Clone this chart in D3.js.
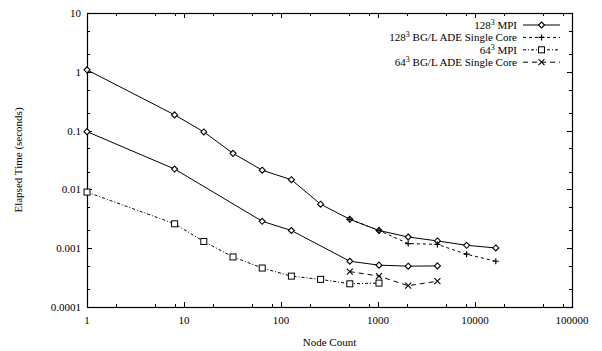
<!DOCTYPE html>
<html>
<head>
<meta charset="utf-8">
<script src="https://cdn.jsdelivr.net/npm/d3@7"></script>
<style>
	body { margin: 0; background: #fff; }
	text { font-family: "Liberation Serif", "Times New Roman", serif; fill: #000; }
</style>
</head>
<body>
<div id="chart-area"></div>
<script>

// Node counts for each run
var nodes128mpi = [1, 8, 16, 32, 64, 128, 256, 512, 1024, 2048, 4096, 8192, 16384];
var time128mpi = [1.08, 0.185, 0.095, 0.041, 0.0212, 0.0146, 0.0056, 0.0031, 0.0020, 0.00155, 0.00133, 0.00112, 0.00101];

var nodes128bgl = [512, 1024, 2048, 4096, 8192, 16384];
var time128bgl = [0.0031, 0.0020, 0.0012, 0.00116, 0.00079, 0.0006];

var nodes64mpi = [1, 8, 16, 32, 64, 128, 256, 512, 1024];
var time64mpi = [0.009, 0.0026, 0.0013, 0.00071, 0.00046, 0.000335, 0.000295, 0.000248, 0.000255];

var nodes64bgl = [512, 1024, 2048, 4096];
var time64bgl = [0.0004, 0.000335, 0.00023, 0.000275];

// second solid curve, no key entry
var nodesExtra = [1, 8, 64, 128, 512, 1024, 2048, 4096];
var timeExtra = [0.096, 0.0222, 0.00287, 0.0020, 0.0006, 0.000515, 0.000495, 0.0005];

var xTickLabels = ["1", "10", "100", "1000", "10000", "100000"];
var yTickLabels = ["0.0001", "0.001", "0.01", "0.1", "1", "10"];

var zip = function(xs, ys) {
	return xs.map(function(x, i) { return {x: x, y: ys[i]}; });
};

var series = [
	{name: "128", rest: " MPI", data: zip(nodes128mpi, time128mpi), dash: null, marker: "diamond"},
	{name: "128", rest: " BG/L ADE Single Core", data: zip(nodes128bgl, time128bgl), dash: "3,3", marker: "plus"},
	{name: "64", rest: " MPI", data: zip(nodes64mpi, time64mpi), dash: "3,2,1,2", marker: "square"},
	{name: "64", rest: " BG/L ADE Single Core", data: zip(nodes64bgl, time64bgl), dash: "5,4", marker: "cross"},
	{name: null, data: zip(nodesExtra, timeExtra), dash: null, marker: "diamond"}
];

var margin = {top: 13, right: 30, bottom: 44, left: 87};
var width = 602 - margin.left - margin.right,
	height = 351 - margin.top - margin.bottom;

var svg = d3.select("#chart-area").append("svg")
	.attr("width", 602)
	.attr("height", 351)
	.append("g")
	.attr("transform", "translate(" + margin.left + "," + margin.top + ")");

var x = d3.scaleLog()
	.domain([1, 100000])
	.range([0, width]);

var y = d3.scaleLog()
	.domain([0.0001, 10])
	.range([height, 0]);

// minor ticks: 2,5,8 on x and 2,5 on y like the original
var xMinor = [], yMinor = [];
[1, 10, 100, 1000, 10000].forEach(function(d) {
	xMinor.push(2 * d, 5 * d, 8 * d);
});
[0.0001, 0.001, 0.01, 0.1, 1].forEach(function(d) {
	yMinor.push(2 * d, 5 * d);
});
var xMajor = xTickLabels.map(Number);
var yMajor = yTickLabels.map(Number);

var ticks = svg.append("g").attr("stroke", "#000").attr("stroke-width", 1);

var addXTicks = function(vals, len) {
	vals.forEach(function(v) {
		var px = Math.round(x(v)) + 0.5;
		ticks.append("line").attr("x1", px).attr("x2", px).attr("y1", height).attr("y2", height - len);
		ticks.append("line").attr("x1", px).attr("x2", px).attr("y1", 0).attr("y2", len);
	});
};
var addYTicks = function(vals, len) {
	vals.forEach(function(v) {
		var py = Math.round(y(v)) + 0.5;
		ticks.append("line").attr("x1", 0).attr("x2", len).attr("y1", py).attr("y2", py);
		ticks.append("line").attr("x1", width).attr("x2", width - len).attr("y1", py).attr("y2", py);
	});
};
addXTicks(xMajor, 5);
addXTicks(xMinor, 3);
addYTicks(yMajor, 5);
addYTicks(yMinor, 3);

// frame
svg.append("rect")
	.attr("x", 0.5)
	.attr("y", 0.5)
	.attr("width", width)
	.attr("height", height)
	.attr("fill", "none")
	.attr("stroke", "#000")
	.attr("stroke-width", 1.2);

// tick labels
svg.selectAll(".xlab")
	.data(xTickLabels)
	.enter()
	.append("text")
	.attr("class", "xlab")
	.attr("x", function(d) { return x(+d); })
	.attr("y", height + 17)
	.attr("text-anchor", "middle")
	.attr("font-size", 11)
	.text(function(d) { return d; });

svg.selectAll(".ylab")
	.data(yTickLabels)
	.enter()
	.append("text")
	.attr("class", "ylab")
	.attr("x", -6)
	.attr("y", function(d) { return y(+d) + 4; })
	.attr("text-anchor", "end")
	.attr("font-size", 11)
	.text(function(d) { return d; });

// axis titles
svg.append("text")
	.attr("x", width / 2)
	.attr("y", height + 39)
	.attr("text-anchor", "middle")
	.attr("font-size", 11)
	.text("Node Count");

svg.append("text")
	.attr("transform", "translate(" + (-65) + "," + (height / 2) + ") rotate(-90)")
	.attr("text-anchor", "middle")
	.attr("font-size", 11)
	.text("Elapsed Time (seconds)");

// markers
var drawMarker = function(g, type, cx, cy) {
	var s = 3;
	if (type == "diamond") {
		g.append("path")
			.attr("d", "M" + cx + "," + (cy - s) + "L" + (cx + s) + "," + cy + "L" + cx + "," + (cy + s) + "L" + (cx - s) + "," + cy + "Z")
			.attr("fill", "#fff").attr("stroke", "#000").attr("stroke-width", 1.1);
	} else if (type == "square") {
		g.append("rect")
			.attr("x", cx - 3).attr("y", cy - 3).attr("width", 6).attr("height", 6)
			.attr("fill", "#fff").attr("stroke", "#000");
	} else if (type == "plus") {
		g.append("path")
			.attr("d", "M" + (cx - s) + "," + cy + "H" + (cx + s) + "M" + cx + "," + (cy - s) + "V" + (cy + s))
			.attr("stroke", "#000").attr("stroke-width", 1.2);
	} else if (type == "cross") {
		g.append("path")
			.attr("d", "M" + (cx - s) + "," + (cy - s) + "L" + (cx + s) + "," + (cy + s) + "M" + (cx - s) + "," + (cy + s) + "L" + (cx + s) + "," + (cy - s))
			.attr("stroke", "#000").attr("stroke-width", 1.1);
	}
};

var line = d3.line()
	.x(function(d) { return x(d.x); })
	.y(function(d) { return y(d.y); });

series.forEach(function(s) {
	var g = svg.append("g");
	g.append("path")
		.datum(s.data)
		.attr("d", line)
		.attr("fill", "none")
		.attr("stroke", "#000")
		.attr("stroke-width", 1)
		.attr("stroke-dasharray", s.dash);
	s.data.forEach(function(d) {
		drawMarker(g, s.marker, x(d.x), y(d.y));
	});
});

// key, top right
var keyRight = 430, keyTop = 12, keyStep = 12.4;
series.filter(function(s) { return s.name; }).forEach(function(s, i) {
	var ky = keyTop + i * keyStep;
	var t = svg.append("text")
		.attr("x", keyRight)
		.attr("y", ky + 4)
		.attr("text-anchor", "end")
		.attr("font-size", 11);
	t.append("tspan").text(s.name);
	t.append("tspan").attr("dy", -4).attr("font-size", 8).text("3");
	t.append("tspan").attr("dy", 4).text(s.rest);
	var g = svg.append("g");
	g.append("line")
		.attr("x1", keyRight + 6).attr("x2", keyRight + 43)
		.attr("y1", ky).attr("y2", ky)
		.attr("stroke", "#000")
		.attr("stroke-dasharray", s.dash);
	drawMarker(g, s.marker, keyRight + 24.5, ky);
});

</script>
</body>
</html>
